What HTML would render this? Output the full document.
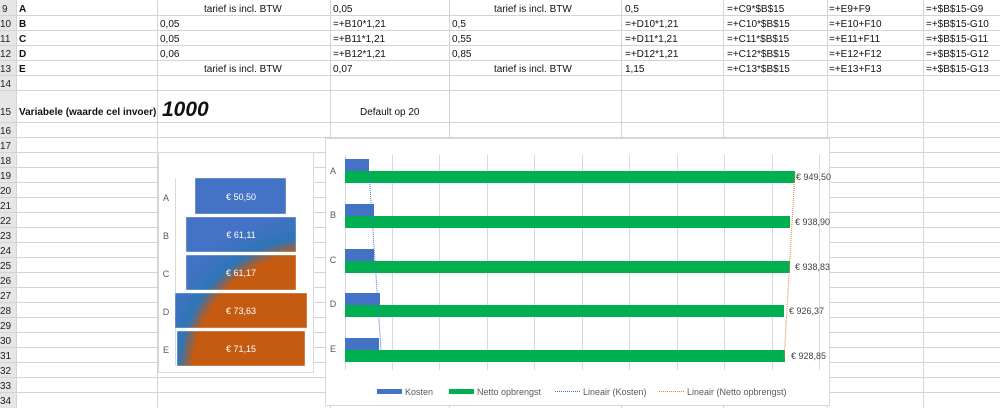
<!DOCTYPE html>
<html><head><meta charset="utf-8"><style>
html,body{margin:0;padding:0;background:#fff;}
svg{display:block;font-family:"Liberation Sans",Calibri,sans-serif;}
</style></head><body>
<svg width="1000" height="408" viewBox="0 0 1000 408" xmlns="http://www.w3.org/2000/svg">
<defs>
<radialGradient id="fg" gradientUnits="userSpaceOnUse" cx="314" cy="374" r="160">
<stop offset="0" stop-color="#c55a11"/>
<stop offset="0.76" stop-color="#c55a11"/>
<stop offset="0.85" stop-color="#2e75b6"/>
<stop offset="1" stop-color="#4472c4"/>
</radialGradient>
</defs>
<rect width="1000" height="408" fill="#fff"/>
<rect x="0" y="0" width="16" height="408" fill="#e6e6e6"/>
<g stroke="#d4d4d4" stroke-width="1">
<line x1="0" y1="15.5" x2="1000" y2="15.5"/><line x1="0" y1="30.5" x2="1000" y2="30.5"/>
<line x1="0" y1="45.5" x2="1000" y2="45.5"/><line x1="0" y1="60.5" x2="1000" y2="60.5"/>
<line x1="0" y1="75.5" x2="1000" y2="75.5"/><line x1="0" y1="90.5" x2="1000" y2="90.5"/>
<line x1="0" y1="122.5" x2="1000" y2="122.5"/><line x1="0" y1="137.5" x2="1000" y2="137.5"/>
<line x1="0" y1="152.5" x2="1000" y2="152.5"/><line x1="0" y1="167.5" x2="1000" y2="167.5"/>
<line x1="0" y1="182.5" x2="1000" y2="182.5"/><line x1="0" y1="197.5" x2="1000" y2="197.5"/>
<line x1="0" y1="212.5" x2="1000" y2="212.5"/><line x1="0" y1="227.5" x2="1000" y2="227.5"/>
<line x1="0" y1="242.5" x2="1000" y2="242.5"/><line x1="0" y1="257.5" x2="1000" y2="257.5"/>
<line x1="0" y1="272.5" x2="1000" y2="272.5"/><line x1="0" y1="287.5" x2="1000" y2="287.5"/>
<line x1="0" y1="302.5" x2="1000" y2="302.5"/><line x1="0" y1="317.5" x2="1000" y2="317.5"/>
<line x1="0" y1="332.5" x2="1000" y2="332.5"/><line x1="0" y1="347.5" x2="1000" y2="347.5"/>
<line x1="0" y1="362.5" x2="1000" y2="362.5"/><line x1="0" y1="377.5" x2="1000" y2="377.5"/>
<line x1="0" y1="392.5" x2="1000" y2="392.5"/>
<line x1="16.5" y1="0" x2="16.5" y2="408"/>
<line x1="157.5" y1="0" x2="157.5" y2="408"/><line x1="330.5" y1="0" x2="330.5" y2="408"/>
<line x1="449.5" y1="0" x2="449.5" y2="408"/><line x1="621.5" y1="0" x2="621.5" y2="408"/>
<line x1="723.5" y1="0" x2="723.5" y2="408"/><line x1="827.5" y1="0" x2="827.5" y2="408"/>
<line x1="923.5" y1="0" x2="923.5" y2="408"/>
</g>
<g font-size="10" fill="#222">
<text x="2" y="12">9</text><text x="0" y="27">10</text><text x="0" y="42">11</text><text x="0" y="57">12</text>
<text x="0" y="72">13</text><text x="0" y="87">14</text><text x="0" y="115">15</text><text x="0" y="134">16</text>
<text x="0" y="149">17</text><text x="0" y="164">18</text><text x="0" y="179">19</text><text x="0" y="194">20</text>
<text x="0" y="209">21</text><text x="0" y="224">22</text><text x="0" y="239">23</text><text x="0" y="254">24</text>
<text x="0" y="269">25</text><text x="0" y="284">26</text><text x="0" y="299">27</text><text x="0" y="314">28</text>
<text x="0" y="329">29</text><text x="0" y="344">30</text><text x="0" y="359">31</text><text x="0" y="374">32</text>
<text x="0" y="389">33</text><text x="0" y="404">34</text>
</g>
<g font-size="10" fill="#111">
<g font-weight="bold"><text x="19" y="12">A</text><text x="19" y="27">B</text><text x="19" y="42">C</text><text x="19" y="57">D</text><text x="19" y="72">E</text>
<text x="19" y="115">Variabele (waarde cel invoer)</text></g>
<text x="204" y="12">tarief is incl. BTW</text><text x="333" y="12">0,05</text>
<text x="494" y="12">tarief is incl. BTW</text><text x="625" y="12">0,5</text>
<text x="727" y="12">=+C9*$B$15</text><text x="829" y="12">=+E9+F9</text><text x="926" y="12">=+$B$15-G9</text>
<text x="160" y="27">0,05</text><text x="333" y="27">=+B10*1,21</text><text x="452" y="27">0,5</text><text x="625" y="27">=+D10*1,21</text><text x="727" y="27">=+C10*$B$15</text><text x="829" y="27">=+E10+F10</text><text x="926" y="27">=+$B$15-G10</text>
<text x="160" y="42">0,05</text><text x="333" y="42">=+B11*1,21</text><text x="452" y="42">0,55</text><text x="625" y="42">=+D11*1,21</text><text x="727" y="42">=+C11*$B$15</text><text x="829" y="42">=+E11+F11</text><text x="926" y="42">=+$B$15-G11</text>
<text x="160" y="57">0,06</text><text x="333" y="57">=+B12*1,21</text><text x="452" y="57">0,85</text><text x="625" y="57">=+D12*1,21</text><text x="727" y="57">=+C12*$B$15</text><text x="829" y="57">=+E12+F12</text><text x="926" y="57">=+$B$15-G12</text>
<text x="204" y="72">tarief is incl. BTW</text><text x="333" y="72">0,07</text><text x="494" y="72">tarief is incl. BTW</text><text x="625" y="72">1,15</text><text x="727" y="72">=+C13*$B$15</text><text x="829" y="72">=+E13+F13</text><text x="926" y="72">=+$B$15-G13</text>
<text x="162" y="116" font-size="21" font-weight="bold" font-style="italic">1000</text>
<text x="360" y="115">Default op 20</text>
</g>
<rect x="158.5" y="152.5" width="155" height="220" fill="#fff" stroke="#d9d9d9"/>
<line x1="175.5" y1="178" x2="175.5" y2="366" stroke="#d9d9d9"/>
<g fill="url(#fg)" stroke="#fff" stroke-width="0.8" stroke-opacity="0.5">
<rect x="195" y="178" width="91" height="36"/>
<rect x="186" y="217" width="110" height="35"/>
<rect x="186" y="255" width="110" height="35"/>
<rect x="175" y="293" width="132" height="35"/>
<rect x="177" y="331" width="128" height="35"/>
</g>
<g font-size="9" fill="#fff" text-anchor="middle">
<text x="241" y="200">€ 50,50</text><text x="241" y="238">€ 61,11</text><text x="241" y="276">€ 61,17</text>
<text x="241" y="314">€ 73,63</text><text x="241" y="352">€ 71,15</text>
</g>
<g font-size="9" fill="#595959" text-anchor="middle">
<text x="166" y="201">A</text><text x="166" y="239">B</text><text x="166" y="277">C</text><text x="166" y="315">D</text><text x="166" y="353">E</text>
</g>
<rect x="325.5" y="138.5" width="504" height="267" fill="#fff" stroke="#d9d9d9"/>
<g stroke="#d9d9d9">
<line x1="392.5" y1="155" x2="392.5" y2="370"/><line x1="439.5" y1="155" x2="439.5" y2="370"/>
<line x1="487.5" y1="155" x2="487.5" y2="370"/><line x1="534.5" y1="155" x2="534.5" y2="370"/>
<line x1="582.5" y1="155" x2="582.5" y2="370"/><line x1="629.5" y1="155" x2="629.5" y2="370"/>
<line x1="677.5" y1="155" x2="677.5" y2="370"/><line x1="724.5" y1="155" x2="724.5" y2="370"/>
<line x1="772.5" y1="155" x2="772.5" y2="370"/><line x1="819.5" y1="155" x2="819.5" y2="370"/>
<line x1="345.5" y1="155" x2="345.5" y2="370"/>
</g>
<g fill="#4472c4">
<rect x="345" y="159" width="24" height="12"/><rect x="345" y="204" width="29" height="12"/>
<rect x="345" y="249" width="29" height="12"/><rect x="345" y="293" width="35" height="12"/>
<rect x="345" y="338" width="34" height="12"/>
</g>
<g fill="#00b050">
<rect x="345" y="171" width="450" height="12"/><rect x="345" y="216" width="445" height="12"/>
<rect x="345" y="261" width="445" height="12"/><rect x="345" y="305" width="439" height="12"/>
<rect x="345" y="350" width="440" height="12"/>
</g>
<line x1="369" y1="172" x2="381" y2="350" stroke="#4472c4" stroke-width="1" stroke-dasharray="1,1"/>
<line x1="795" y1="172" x2="784" y2="360" stroke="#ed7d31" stroke-width="1" stroke-dasharray="1,1"/>
<g font-size="9" fill="#404040">
<text x="796" y="180">€ 949,50</text><text x="795" y="225">€ 938,90</text><text x="795" y="270">€ 938,83</text>
<text x="789" y="314">€ 926,37</text><text x="791" y="359">€ 928,85</text>
</g>
<g font-size="9" fill="#595959" text-anchor="middle">
<text x="333" y="174">A</text><text x="333" y="218">B</text><text x="333" y="263">C</text><text x="333" y="307">D</text><text x="333" y="352">E</text>
</g>
<g font-size="9" fill="#595959">
<rect x="377" y="389" width="25" height="5" fill="#4472c4"/><text x="405" y="395">Kosten</text>
<rect x="449" y="389" width="25" height="5" fill="#00b050"/><text x="477" y="395">Netto opbrengst</text>
<line x1="555" y1="391.5" x2="580" y2="391.5" stroke="#4472c4" stroke-dasharray="1,1"/><text x="583" y="395">Lineair (Kosten)</text>
<line x1="659" y1="391.5" x2="684" y2="391.5" stroke="#ed7d31" stroke-dasharray="1,1"/><text x="687" y="395">Lineair (Netto opbrengst)</text>
</g>
</svg>
</body></html>
